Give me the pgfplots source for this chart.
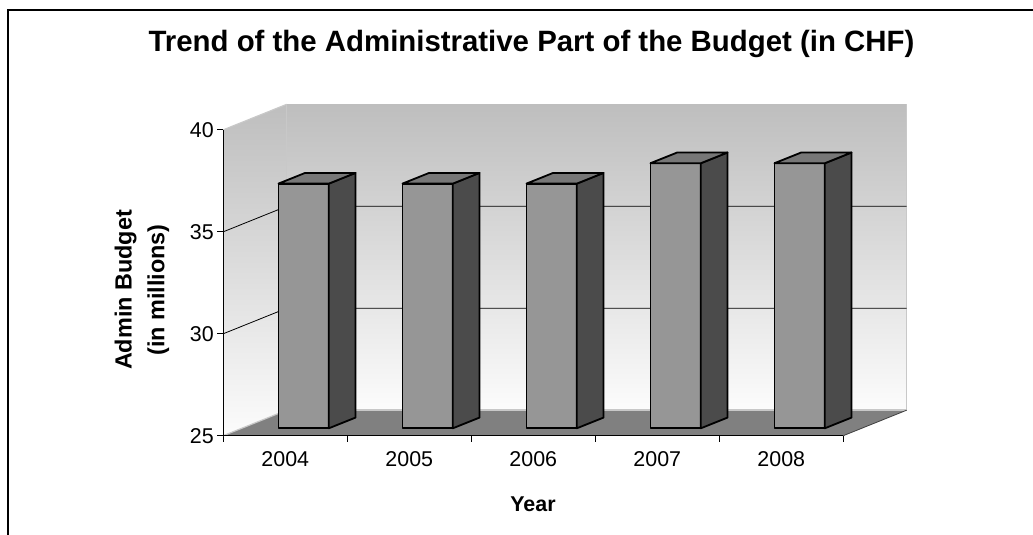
\documentclass[border=0pt]{standalone}
\usepackage{pgfplots}
\pgfplotsset{compat=1.18}
\usepackage{pgfplotstable}
\usepackage{fontspec}
\setmainfont{Liberation Sans}
\definecolor{barfront}{HTML}{969696}
\definecolor{barside}{HTML}{4B4B4B}
\definecolor{bartop}{HTML}{777777}
\definecolor{floorc}{HTML}{808080}
\definecolor{walltop}{HTML}{BEBEBE}
\definecolor{wallbot}{HTML}{FCFCFC}
\definecolor{walledge}{HTML}{C8C8C8}

\pgfplotstableread{
year v
2004 37
2005 37
2006 37
2007 38
2008 38
}\budget

\begin{document}
\begin{tikzpicture}
\path[use as bounding box] (0,0) rectangle (1033bp,535bp);
\draw[line width=2bp] (7.5bp,-5bp) -- (7.5bp,524.5bp) -- (1040bp,524.5bp);
\node[anchor=base, font=\bfseries\fontsize{29.5}{34}\selectfont] at (531.5bp,483bp)
  {Trend of the Administrative Part of the Budget (in CHF)};
\node[anchor=base, font=\bfseries\fontsize{21.5}{24}\selectfont] at (533bp,24bp) {Year};
\node[rotate=90, align=center, font=\bfseries\fontsize{23.5}{33}\selectfont] at (142bp,245bp)
  {Admin Budget\\(in millions)};
\begin{axis}[
  at={(223.3bp,99.3bp)}, anchor=south west,
  x=124bp, y=20.39bp,
  xmin=0, xmax=5.511, ymin=25, ymax=41.251,
  axis line style={draw=none},
  clip=false,
  tick align=outside,
  ytick={25,30,35,40}, ytick pos=left,
  xtick={0,1,2,3,4,5}, xticklabels={,,,,,}, xtick pos=bottom,
  extra x ticks={0.5,1.5,2.5,3.5,4.5},
  extra x tick labels={2004,2005,2006,2007,2008},
  extra x tick style={major tick length=0pt},
  xticklabel style={yshift=-12bp},
  major tick length=6bp,
  tick style={black, line width=0.8bp},
  ticklabel style={font=\fontsize{21.5}{24}\selectfont},
  /pgf/number format/assume math mode=true,
  barline/.style={draw=black, line width=1.8bp, line join=round},
]
% walls and floor
\shade[top color=walltop, bottom color=wallbot] (axis cs:0.511,26.251) rectangle (axis cs:5.511,41.251);
\shade[top color=walltop, bottom color=wallbot] (axis cs:0,25) -- (axis cs:0.511,26.251) -- (axis cs:0.511,41.251) -- (axis cs:0,40) -- cycle;
\fill[floorc] (axis cs:0,25) -- (axis cs:5,25) -- (axis cs:5.511,26.251) -- (axis cs:0.511,26.251) -- cycle;
\draw[walledge, line width=1.5bp] (axis cs:0.511,26.251) -- (axis cs:5.511,26.251) -- (axis cs:5.511,41.251);
\draw[walledge, line width=1.5bp] (axis cs:0.511,26.251) -- (axis cs:0.511,41.251);
\draw[walledge, line width=1.2bp] (axis cs:0,40) -- (axis cs:0.511,41.251);
\draw[walledge, line width=1.2bp] (axis cs:0,25) -- (axis cs:0.511,26.251);
% gridlines
\draw[black, line width=0.8bp] (axis cs:0,30) -- (axis cs:0.511,31.251) -- (axis cs:5.511,31.251);
\draw[black, line width=0.8bp] (axis cs:0,35) -- (axis cs:0.511,36.251) -- (axis cs:5.511,36.251);
% front axis lines
\draw[black, line width=1bp] (axis cs:0,40) -- (axis cs:0,25) -- (axis cs:5,25);
\draw[black!75, line width=0.8bp] (axis cs:5,25) -- (axis cs:5.511,26.251);
% bars
\pgfplotsinvokeforeach{0,1,2,3,4}{
  \pgfplotstablegetelem{#1}{v}\of\budget
  \pgfmathsetmacro\vf{\pgfplotsretval+0.363}
  \pgfmathsetmacro\vb{\pgfplotsretval+0.888}
  \pgfmathsetmacro\xL{#1+0.445}
  \pgfmathsetmacro\xR{#1+0.851}
  \pgfmathsetmacro\xLb{#1+0.660}
  \pgfmathsetmacro\xRb{#1+1.066}
  \addplot[barline, fill=barfront] coordinates {(\xL,25.363) (\xR,25.363) (\xR,\vf) (\xL,\vf)} --cycle;
  \addplot[barline, fill=barside] coordinates {(\xR,25.363) (\xRb,25.888) (\xRb,\vb) (\xR,\vf)} --cycle;
  \addplot[barline, fill=bartop] coordinates {(\xL,\vf) (\xR,\vf) (\xRb,\vb) (\xLb,\vb)} --cycle;
}
\end{axis}
\end{tikzpicture}
\end{document}
